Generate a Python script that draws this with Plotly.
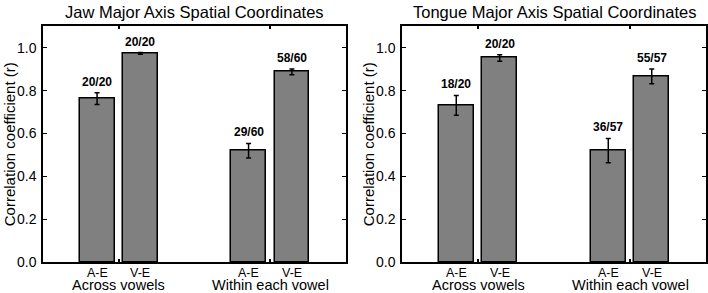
import plotly.graph_objects as go

panel_titles = ["Jaw Major Axis Spatial Coordinates", "Tongue Major Axis Spatial Coordinates"]
groups = ["Across vowels", "Within each vowel"]
conditions = ["A-E", "V-E"]

jaw_values = [0.763, 0.974, 0.520, 0.888]
jaw_errors = [0.027, 0.004, 0.034, 0.013]
jaw_labels = ["20/20", "20/20", "29/60", "58/60"]

tongue_values = [0.732, 0.953, 0.520, 0.867]
tongue_errors = [0.046, 0.015, 0.057, 0.034]
tongue_labels = ["18/20", "20/20", "36/57", "55/57"]

y_ticks = [0.0, 0.2, 0.4, 0.6, 0.8, 1.0]

FONT = "Liberation Sans, Arial, Helvetica, sans-serif"
offset = 0.143
bar_w = 0.23
group_pos = [1, 2]
bar_x = [g + s * offset for g in group_pos for s in (-1, 1)]
bar_cond = [c for g in groups for c in conditions]

fig = go.Figure()
domains = [[0.0607, 0.4887], [0.5678, 0.9972]]
ydom = [0.1058, 0.9096]
data = [(jaw_values, jaw_errors, jaw_labels), (tongue_values, tongue_errors, tongue_labels)]

annotations = []
for i, (vals, errs, labs) in enumerate(data):
    xa = "x" if i == 0 else "x2"
    ya = "y" if i == 0 else "y2"
    fig.add_trace(go.Bar(
        x=bar_x, y=vals, width=bar_w, xaxis=xa, yaxis=ya,
        marker=dict(color="#808080", line=dict(color="black", width=1.5)),
        error_y=dict(type="data", array=errs, color="black", thickness=1.5, width=2.5),
        showlegend=False, hoverinfo="y",
    ))
    for x, v, e, lab in zip(bar_x, vals, errs, labs):
        annotations.append(dict(x=x, y=v + e, xref=xa, yref=ya, text="<b>%s</b>" % lab,
                                showarrow=False, yanchor="bottom", xanchor="center", yshift=2,
                                font=dict(size=12, family=FONT, color="black")))
    for x, c in zip(bar_x, bar_cond):
        annotations.append(dict(x=x, y=0, xref=xa, yref=ya, text=c, showarrow=False,
                                yanchor="middle", xanchor="center", yshift=-11, borderpad=0,
                                font=dict(size=12.5, family=FONT, color="black")))
    for g, name in zip(group_pos, groups):
        annotations.append(dict(x=g, y=0, xref=xa, yref=ya, text=name, showarrow=False,
                                yanchor="middle", xanchor="center", yshift=-23, borderpad=0,
                                font=dict(size=14.5, family=FONT, color="black")))
    cx = (domains[i][0] + domains[i][1]) / 2
    annotations.append(dict(x=cx, y=1 - 12 / 293, xref="paper", yref="paper", text=panel_titles[i],
                            showarrow=False, yanchor="middle", xanchor="center",
                            font=dict(size=16.5, family=FONT, color="black")))
    annotations.append(dict(x=domains[i][0], y=(ydom[0] + ydom[1]) / 2, xref="paper", yref="paper",
                            text="Correlation coefficient (r)", textangle=-90, showarrow=False,
                            xanchor="center", yanchor="middle", xshift=-34,
                            font=dict(size=15, family=FONT, color="black")))

axis_common_x = dict(range=[0.5, 2.5], tickvals=group_pos, ticktext=["", ""], ticks="inside",
                     ticklen=3, tickwidth=1.5, tickcolor="black", showline=True, linecolor="black",
                     linewidth=1.5, mirror="ticks", showgrid=False, zeroline=False, fixedrange=True,
                     automargin=False)
axis_common_y = dict(range=[0, 1.1], tickvals=y_ticks, tickformat=".1f", ticks="inside",
                     ticklen=4, tickwidth=1, tickcolor="black", showline=True, linecolor="black",
                     linewidth=1.5, mirror="ticks", showgrid=False, zeroline=False,
                     tickfont=dict(size=14, family=FONT, color="black"), fixedrange=True,
                     automargin=False, ticklabelstandoff=2)

fig.update_layout(
    width=708, height=293,
    margin=dict(l=0, r=0, t=0, b=0),
    plot_bgcolor="white", paper_bgcolor="white",
    xaxis=dict(domain=domains[0], anchor="y", **axis_common_x),
    yaxis=dict(domain=ydom, anchor="x", **axis_common_y),
    xaxis2=dict(domain=domains[1], anchor="y2", **axis_common_x),
    yaxis2=dict(domain=ydom, anchor="x2", **axis_common_y),
    annotations=annotations,
    bargap=0,
)

fig.write_html("out.html", config={"displayModeBar": False},
               post_script="document.body.style.margin='0';document.body.style.overflow='hidden';")
